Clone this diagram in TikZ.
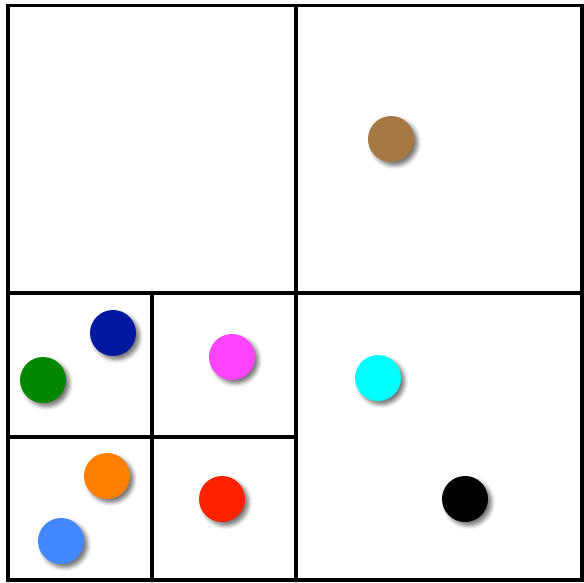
\documentclass[tikz,border=0pt]{standalone}
\usetikzlibrary{shadows.blur}
\definecolor{cbrown}{RGB}{166,120,67}
\definecolor{cnavy}{RGB}{0,25,160}
\definecolor{cgreen}{RGB}{0,136,0}
\definecolor{cmagenta}{RGB}{255,68,255}
\definecolor{ccyan}{RGB}{0,255,255}
\definecolor{corange}{RGB}{255,127,0}
\definecolor{clblue}{RGB}{68,136,255}
\definecolor{cred}{RGB}{255,34,0}
\tikzset{
  grid/.style={line width=3.4pt, line cap=rect},
  dot/.style={circle, minimum size=46pt, inner sep=0pt, fill=#1,
    blur shadow={shadow xshift=3.5pt, shadow yshift=-3.5pt, shadow blur radius=4pt, shadow opacity=55}}
}
\begin{document}
\begin{tikzpicture}[x=1pt,y=-1pt]
\useasboundingbox (0,0) rectangle (584,583);
\coordinate (tl) at (8,5.5);
\coordinate (br) at (582,580);
\coordinate (mt) at (296,5.5);
\coordinate (mb) at (296,580);
\coordinate (ml) at (8,293);
\coordinate (mr) at (582,293);
\coordinate (qt) at (152,293);
\coordinate (qb) at (152,580);
\coordinate (ql) at (8,437);
\coordinate (qr) at (296,437);
\node[dot=cbrown] (brown) at (391,139) {};
\node[dot=cnavy] (navy) at (113,333) {};
\node[dot=cgreen] (green) at (43,380) {};
\node[dot=cmagenta] (magenta) at (232,357) {};
\node[dot=ccyan] (cyan) at (378,378) {};
\node[dot=corange] (orange) at (107,476) {};
\node[dot=clblue] (lblue) at (61,541) {};
\node[dot=cred] (red) at (222,499) {};
\node[dot=black] (blk) at (465,499) {};
\draw[grid] (tl) rectangle (br);
\draw[grid] (mt) -- (mb);
\draw[grid] (ml) -- (mr);
\draw[grid] (qt) -- (qb);
\draw[grid] (ql) -- (qr);
\end{tikzpicture}
\end{document}
